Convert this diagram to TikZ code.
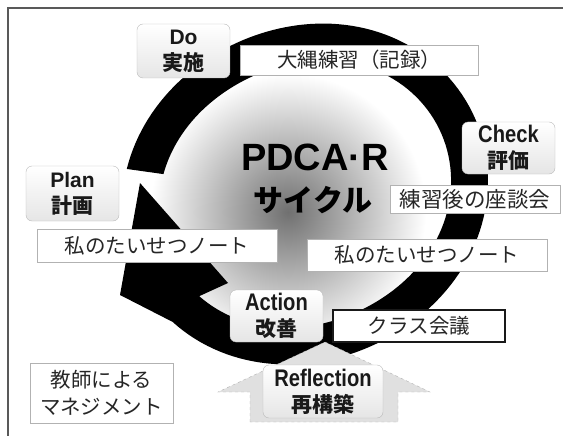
\documentclass[tikz,border=0pt]{standalone}
\usepackage{fontspec}
\setmainfont{Liberation Sans}
\newfontfamily\jp{Noto Sans CJK JP}
\newfontfamily\lat{Liberation Sans}
\newfontfamily\latn[FakeStretch=0.84]{Liberation Sans}
\usetikzlibrary{calc}
\tikzset{
  rbox/.style={draw=gray!55, rounded corners=6pt, top color=white, bottom color=gray!20,
    inner sep=0pt, align=center, text=black!90, font=\fontsize{21}{26}\selectfont\bfseries},
  wbox/.style={draw=gray!60, line width=0.8pt, fill=white, inner sep=0pt, align=center,
    text=black!85, font=\jp\fontsize{20.5}{27}\selectfont},
  declare function={rout(\a)=176+8*cos(2*(\a-40))+5*cos(2*\a); rin(\a)=rout(\a)-37;},
}
\begin{document}
\begin{tikzpicture}[x=1pt,y=-1pt]
\useasboundingbox (0,0) rectangle (563,436);
% frame
\draw[black!65, line width=1.2pt] (8,436) -- (8,8) -- (563,8);
% gradient centre
\shade[inner color=black!56, outer color=white] (288,212) circle[radius=138pt];
% ring arrow
\fill[black] plot[domain=172:-136,samples=140,variable=\t] ({305+rout(\t)*cos(\t)},{194-rout(\t)*sin(\t)})
  -- (120,295) -- (140,183) -- (228,283)
  -- plot[domain=-136:172,samples=140,variable=\t] ({305+rin(\t)*cos(\t)},{194-rin(\t)*sin(\t)}) -- cycle;
% reflection arrow
\draw[gray!60, dashed, fill=gray!24] (250,422) -- (250,392) -- (218,392) -- (325,342)
  -- (430,392) -- (398,392) -- (398,422) -- cycle;
% centre title
\node (title) at (315,157) {\lat\bfseries\fontsize{38}{40}\selectfont PDCA·R};
\node (cycle) at (313,200) {\jp\bfseries\fontsize{30}{32}\selectfont サイクル};
% stage boxes
\node[rbox, minimum width=93pt, minimum height=54pt] (do) at (183.5,51) {{\lat Do}\\{\jp 実施}};
\node[rbox, minimum width=93pt, minimum height=52pt] (check) at (508.5,148) {{\latn\fontsize{24}{26}\selectfont Check}\\{\jp 評価}};
\node[rbox, minimum width=93pt, minimum height=55pt] (plan) at (72.5,193.5) {{\lat Plan}\\{\jp 計画}};
\node[rbox, minimum width=93pt, minimum height=52pt] (action) at (276.5,316) {{\latn\fontsize{24}{26}\selectfont Action}\\{\jp 改善}};
\node[rbox, minimum width=120pt, minimum height=53pt] (refl) at (323,391.5) {{\latn\fontsize{24}{26}\selectfont Reflection}\\{\jp 再構築}};
% text boxes
\node[wbox, minimum width=238pt, minimum height=30pt] (rope) at (359,60) {大縄練習（記録）};
\node[wbox, minimum width=170pt, minimum height=28pt] (talk) at (475,199) {\fontsize{21.5}{24}\selectfont 練習後の座談会};
\node[wbox, minimum width=240pt, minimum height=33pt] (noteL) at (157,245.5) {私のたいせつノート};
\node[wbox, minimum width=240pt, minimum height=32pt] (noteR) at (427,255) {私のたいせつノート};
\node[wbox, draw=black!90, line width=1.6pt, minimum width=172pt, minimum height=32pt] (class) at (419,326) {クラス会議};
\node[wbox, minimum width=143pt, minimum height=60pt] (teacher) at (101.5,393) {教師による\\マネジメント};
\end{tikzpicture}
\end{document}
